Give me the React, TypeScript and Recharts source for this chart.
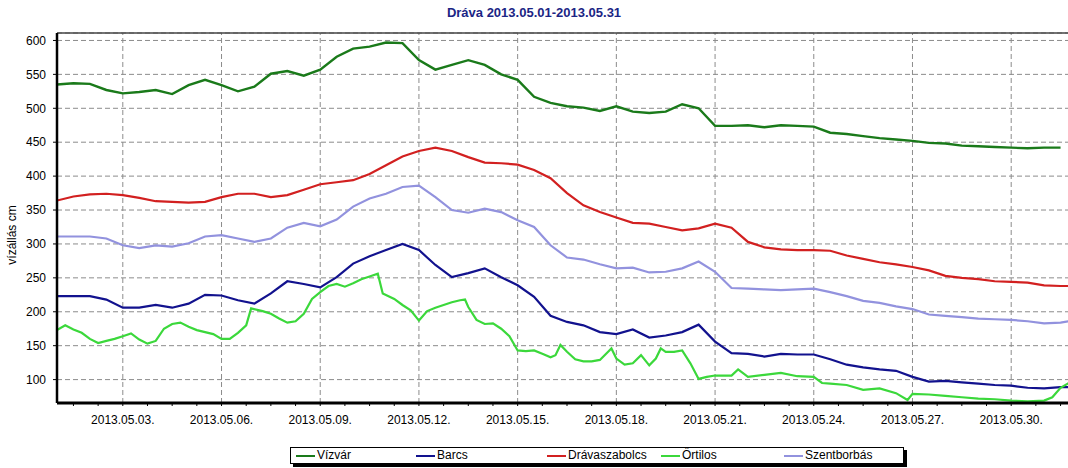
import React from 'react';
import { LineChart, Line, XAxis, YAxis, CartesianGrid, ReferenceLine } from 'recharts';

const chartTitle = 'Dráva 2013.05.01-2013.05.31';
const yAxisTitle = 'vízállás cm';

const seriesNames = ['Vízvár', 'Barcs', 'Drávaszabolcs', 'Őrtilos', 'Szentborbás'];
const seriesColors = ['#1a7a1a', '#12128e', '#d22020', '#3bd83b', '#9292de'];

// x = days since 2013.05.01 00:00
const days = [
  0, 0.5, 1, 1.5, 2, 2.5, 3, 3.5, 4, 4.5, 5, 5.5, 6, 6.5, 7, 7.5, 8, 8.5, 9, 9.5,
  10, 10.5, 11, 11.5, 12, 12.5, 13, 13.5, 14, 14.5, 15, 15.5, 16, 16.5, 17, 17.5, 18, 18.5, 19, 19.5,
  20, 20.5, 21, 21.5, 22, 22.5, 23, 23.5, 24, 24.5, 25, 25.5, 26, 26.5, 27, 27.5, 28, 28.5, 29, 29.5,
  30, 30.5, 30.75,
];

const vizvar = [
  535, 537, 536, 527, 522, 524, 527, 521, 534, 542, 534, 525, 532, 551, 555, 548, 557, 576, 588, 591,
  597, 596, 571, 557, 564, 571, 564, 550, 542, 517, 508, 503, 501, 496, 503, 495, 493, 495, 506, 500,
  474, 474, 475, 472, 475, 474, 473, 464, 462, 459, 456, 454, 452, 449, 448, 445, 444, 443, 442, 441,
  442, 442, null,
];

const barcs = [
  223, 223, 223, 218, 206, 206, 210, 206, 212, 225, 224, 217, 212, 227, 245, 241, 236, 251, 271, 282,
  291, 300, 291, 269, 251, 257, 264, 251, 239, 222, 194, 185, 180, 170, 167, 174, 162, 165, 170, 181,
  156, 139, 138, 134, 138, 137, 137, 130, 122, 118, 115, 113, 104, 97, 98, 96, 94, 92, 91, 88,
  87, 89, 89,
];

const dravaszabolcs = [
  364, 370, 373, 374, 372, 368, 363, 362, 361, 362, 369, 374, 374, 369, 372, 380, 388, 391, 394, 403,
  416, 429, 437, 442, 437, 428, 420, 419, 417, 409, 397, 375, 357, 347, 339, 331, 330, 325, 320, 323,
  330, 324, 303, 295, 292, 291, 291, 290, 283, 278, 273, 270, 266, 261, 253, 250, 248, 245, 244, 243,
  239, 238, 238,
];

const szentborbas = [
  311, 311, 311, 308, 298, 294, 298, 296, 301, 311, 313, 308, 303, 308, 324, 331, 326, 336, 355, 367,
  374, 384, 386, 369, 350, 346, 352, 347, 335, 325, 298, 280, 277, 270, 264, 265, 258, 259, 264, 274,
  259, 235, 234, 233, 232, 233, 234, 229, 223, 216, 213, 208, 204, 196, 194, 192, 190, 189, 188, 186,
  183, 184, 186,
];

// Őrtilos is noisier, read at its own finer time steps
const ortilosDays = [
  0, 0.25, 0.5, 0.75, 1, 1.25, 1.5, 1.75, 2, 2.25, 2.5, 2.75, 3, 3.25, 3.5, 3.75, 4, 4.25, 4.5, 4.75,
  5, 5.25, 5.5, 5.75, 5.9, 6.25, 6.5, 6.75, 7, 7.25, 7.5, 7.75, 8, 8.25, 8.5, 8.75, 9, 9.25, 9.5, 9.75,
  9.9, 10.25, 10.5, 10.75, 11, 11.25, 11.5, 11.75, 12, 12.25, 12.4, 12.5, 12.75, 13, 13.25, 13.5, 13.75, 14, 14.25, 14.5,
  14.75, 15, 15.15, 15.3, 15.5, 15.75, 16, 16.25, 16.5, 16.75, 16.85, 17, 17.25, 17.5, 17.75, 18, 18.2, 18.35, 18.5, 18.75,
  19, 19.25, 19.5, 19.75, 20, 20.5, 20.7, 21, 21.5, 22, 22.5, 23, 23.25, 23.5, 24, 24.5, 25, 25.5, 25.85, 26,
  26.5, 27, 27.5, 28, 28.5, 29, 29.5, 30, 30.25, 30.5, 30.75,
];
const ortilos = [
  173, 180, 174, 169, 160, 154, 157, 160, 164, 168, 159, 153, 157, 175, 182, 184, 178, 173, 170, 167,
  160, 160, 169, 180, 205, 201, 197, 190, 184, 186, 197, 219, 229, 238, 241, 237, 242, 248, 252, 256,
  227, 219, 210, 202, 187, 201, 206, 210, 214, 217, 218, 207, 188, 182, 183, 175, 164, 143, 142, 143,
  138, 133, 136, 151, 141, 130, 127, 127, 129, 141, 146, 131, 122, 124, 136, 121, 131, 146, 141, 141,
  143, 124, 101, 104, 106, 106, 115, 104, 107, 110, 105, 104, 95, 94, 92, 85, 87, 80, 70, 79,
  78, 76, 74, 72, 71, 69, 68, 69, 74, 88, 95,
];

const majorTickDays = [2, 5, 8, 11, 14, 17, 20, 23, 26, 29];
const majorTickLabels = [
  '2013.05.03.', '2013.05.06.', '2013.05.09.', '2013.05.12.', '2013.05.15.',
  '2013.05.18.', '2013.05.21.', '2013.05.24.', '2013.05.27.', '2013.05.30.',
];
const yTicks = [100, 150, 200, 250, 300, 350, 400, 450, 500, 550, 600];
const yDomain = [65.5, 611];
const xDomain = [0, 31];

// minor ticks: every quarter of a major interval
const xTicks: number[] = [];
majorTickDays.forEach((m) => {
  [-1.5, -0.75, 0, 0.75, 1.5].forEach((o) => {
    const t = m + o;
    if (t > 0 && t < 31 && !xTicks.includes(t)) xTicks.push(t);
  });
});
xTicks.sort((a, b) => a - b);

const mainRows = days.map((d, i) => ({
  day: d,
  vizvar: vizvar[i],
  barcs: barcs[i],
  dravaszabolcs: dravaszabolcs[i],
  szentborbas: szentborbas[i],
}));
const ortilosRows = ortilosDays.map((d, i) => ({ day: d, ortilos: ortilos[i] }));

const FONT = '"Liberation Sans", Arial, sans-serif';

const xLabel = (v: number) => {
  const idx = majorTickDays.indexOf(v);
  return idx >= 0 ? majorTickLabels[idx] : '';
};

const legendLineLeft = [5, 125, 256, 370, 493];

export default function App() {
  return (
    <div
      style={{
        position: 'absolute',
        left: 0,
        top: 0,
        width: 1068,
        height: 468,
        overflow: 'hidden',
        background: '#fff',
        fontFamily: FONT,
      }}
    >
      <div
        style={{
          position: 'absolute',
          left: 0,
          top: 5,
          width: 1068,
          textAlign: 'center',
          fontSize: 13,
          fontWeight: 'bold',
          color: '#1b2585',
        }}
      >
        {chartTitle}
      </div>
      <LineChart
        width={1077}
        height={468}
        data={mainRows}
        margin={{ top: 33, right: 0, bottom: 0, left: 0 }}
        style={{ position: 'absolute', left: 0, top: 0 }}
      >
        <CartesianGrid vertical={false} stroke="#8c8c8c" strokeDasharray="5 3" />
        {majorTickDays.map((d) => (
          <ReferenceLine key={d} x={d} stroke="#8c8c8c" strokeDasharray="5 3" />
        ))}
        <ReferenceLine y={yDomain[1]} stroke="#444" strokeWidth={1.5} />
        <XAxis
          type="number"
          dataKey="day"
          domain={xDomain}
          ticks={xTicks}
          allowDataOverflow
          interval={0}
          height={65}
          tickFormatter={xLabel}
          tickSize={3}
          tickMargin={9}
          tick={{ fontSize: 12, fill: '#000', fontFamily: FONT }}
          tickLine={{ stroke: '#000' }}
          axisLine={{ stroke: '#000', strokeWidth: 3 }}
        />
        <YAxis
          type="number"
          domain={yDomain}
          ticks={yTicks}
          allowDataOverflow
          interval={0}
          width={57}
          tickSize={4}
          tickMargin={7}
          tick={{ fontSize: 12, fill: '#000', fontFamily: FONT }}
          tickLine={{ stroke: '#000' }}
          axisLine={{ stroke: '#000', strokeWidth: 2.5 }}
          label={{
            value: yAxisTitle,
            content: (props: any) => {
              const vb = props.viewBox || { x: 0, y: 33, height: 370 };
              const cx = vb.x + 12;
              const cy = vb.y + vb.height / 2 + 17;
              return (
                <text
                  x={cx}
                  y={cy}
                  transform={`rotate(-90 ${cx} ${cy})`}
                  textAnchor="middle"
                  dominantBaseline="central"
                  fontSize={12}
                  fontFamily={FONT}
                  fill="#000"
                >
                  {yAxisTitle}
                </text>
              );
            },
          }}
        />
        <Line
          type="linear"
          dataKey="vizvar"
          name={seriesNames[0]}
          stroke={seriesColors[0]}
          strokeWidth={2.4}
          dot={false}
          isAnimationActive={false}
        />
        <Line
          type="linear"
          dataKey="barcs"
          name={seriesNames[1]}
          stroke={seriesColors[1]}
          strokeWidth={2.2}
          dot={false}
          isAnimationActive={false}
        />
        <Line
          type="linear"
          dataKey="dravaszabolcs"
          name={seriesNames[2]}
          stroke={seriesColors[2]}
          strokeWidth={2.2}
          dot={false}
          isAnimationActive={false}
        />
        <Line
          type="linear"
          data={ortilosRows}
          dataKey="ortilos"
          name={seriesNames[3]}
          stroke={seriesColors[3]}
          strokeWidth={2.2}
          dot={false}
          isAnimationActive={false}
        />
        <Line
          type="linear"
          dataKey="szentborbas"
          name={seriesNames[4]}
          stroke={seriesColors[4]}
          strokeWidth={2.2}
          dot={false}
          isAnimationActive={false}
        />
      </LineChart>
      <div
        style={{
          position: 'absolute',
          left: 290,
          top: 447,
          width: 612,
          height: 15,
          border: '1px solid #000',
          background: '#fff',
          boxShadow: '3px 3px 0 #000',
        }}
      >
        {seriesNames.map((n, i) => (
          <div
            key={n}
            style={{ position: 'absolute', left: legendLineLeft[i], top: 0, height: 15, display: 'flex', alignItems: 'center' }}
          >
            <div style={{ width: 19, height: 2, background: seriesColors[i], marginRight: 2 }} />
            <span style={{ fontSize: 12, color: '#000', lineHeight: '15px' }}>{n}</span>
          </div>
        ))}
      </div>
    </div>
  );
}
